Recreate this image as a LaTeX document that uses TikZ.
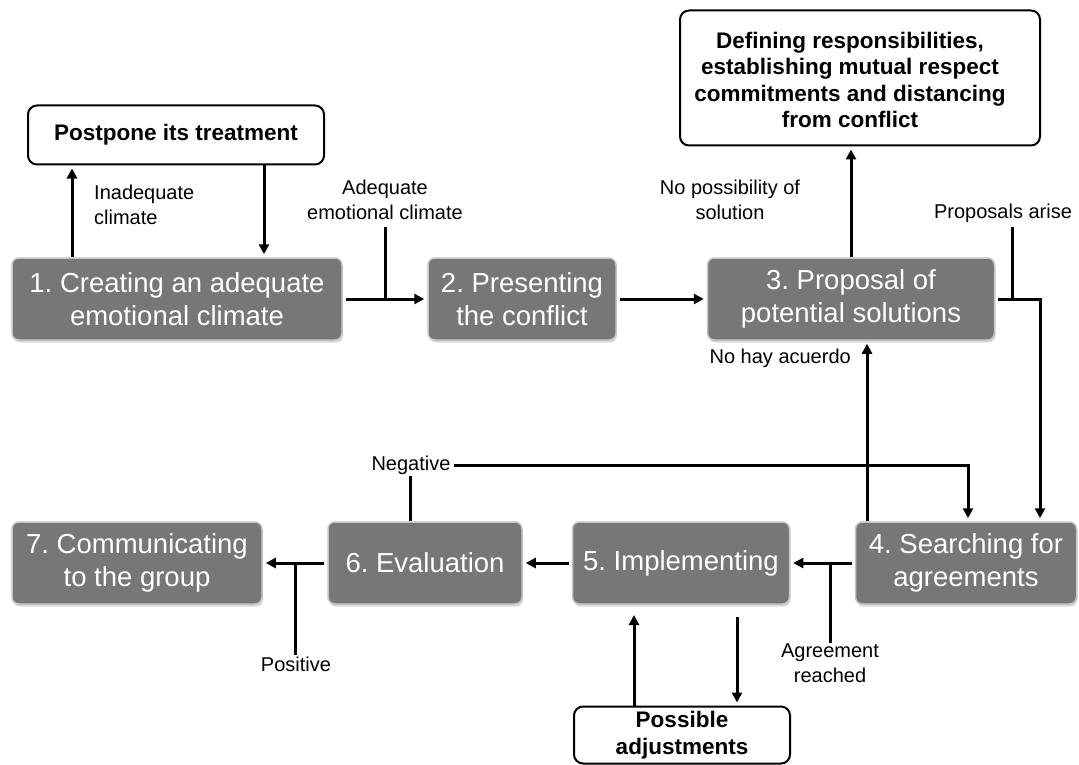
\documentclass[tikz,border=0pt]{standalone}
\usepackage{fontspec}
\setmainfont{Liberation Sans}
\usetikzlibrary{arrows.meta,shadows}
\definecolor{boxgray}{HTML}{777777}
\definecolor{boxedge}{HTML}{C4C4C4}
\frenchspacing
\begin{document}
\begin{tikzpicture}[x=1pt,y=-1pt,
 stepbox/.style={rounded corners=7pt, fill=boxgray, draw=boxedge, line width=1.5pt, text=white, align=center,
   font=\fontsize{27.5}{33}\selectfont, inner sep=0pt,
   drop shadow={shadow xshift=1pt, shadow yshift=-2.5pt, opacity=0.3}, minimum height=82pt},
 notebox/.style={rounded corners=9pt, draw=black, line width=2pt, fill=white, align=center,
   font=\bfseries\fontsize{22.5}{26.5}\selectfont, inner sep=0pt},
 lbl/.style={font=\fontsize{20}{24.5}\selectfont, align=center, inner sep=1pt},
 arr/.style={line width=3pt, -{Triangle[length=10pt,width=10pt]}, shorten >=3pt},
 ln/.style={line width=3pt}
]
\fill[white] (0,0) rectangle (1079,765);
\useasboundingbox (0,0) rectangle (1079,765);

% step boxes
\node[stepbox, minimum width=330pt] (b1) at (177,299) {1. Creating an adequate\\emotional climate};
\node[stepbox, minimum width=188pt] (b2) at (522,299) {2. Presenting\\the conflict};
\node[stepbox, minimum width=287pt] (b3) at (851,299) {3. Proposal of\\potential solutions};
\node[stepbox, minimum width=221pt] (b4) at (966,563) {4. Searching for\\agreements};
\node[stepbox, minimum width=217pt] (b5) at (681,563) {5. Implementing};
\node[stepbox, minimum width=194pt] (b6) at (425,563) {6. Evaluation};
\node[stepbox, minimum width=250pt] (b7) at (137,563) {7. Communicating\\to the group};

% note boxes
\node[notebox, minimum width=296pt, minimum height=59pt] (post) at (176,135) {Postpone its treatment};
\node[notebox, minimum width=360pt, minimum height=135pt] (def) at (860,78) {\begin{tabular}{@{}c@{\hspace{20pt}}}\rule{0pt}{28pt}Defining responsibilities,\\establishing mutual respect\\commitments and distancing\\from conflict\end{tabular}};
\node[notebox, minimum width=216pt, minimum height=57pt] (adj) at (682,735) {Possible\\adjustments};

% labels
\node[lbl, align=left, anchor=west] (inad) at (93,205) {Inadequate\\climate};
\node[lbl] (adeq) at (385,200) {Adequate\\emotional climate};
\node[lbl] (nopos) at (730,200) {No possibility of\\solution};
\node[lbl] (prop) at (1003,213) {Proposals arise};
\node[lbl, anchor=east] (nohay) at (852,358) {No hay acuerdo};
\node[lbl] (neg) at (411,465) {Negative};
\node[lbl] (agr) at (830,663) {Agreement\\reached};
\node[lbl] (pos) at (296,664) {Positive};

% helper coordinates
\coordinate (x72) at (72,0);
\coordinate (x264) at (264,0);
\coordinate (x385) at (385,0);
\coordinate (x851) at (851,0);
\coordinate (x1012) at (1012,0);
\coordinate (x1040) at (1040,0);
\coordinate (x867) at (867,0);
\coordinate (x968) at (968,0);
\coordinate (x830) at (830,0);
\coordinate (x295) at (295,0);
\coordinate (x410) at (410,0);
\coordinate (x634) at (634,0);
\coordinate (x737) at (737,0);
\coordinate (y612) at (0,612);
\coordinate (y617) at (0,617);

% connectors
\draw[arr] (b1.north -| x72) -- (post.south -| x72);
\draw[arr] (post.south -| x264) -- (b1.north -| x264);
\draw[arr, shorten <=3pt] (b1.east) -- (b2.west);
\draw[ln] (adeq.south -| x385) ++(0,6) -- (b1.east -| x385);
\draw[arr, shorten <=3pt] (b2.east) -- (b3.west);
\draw[arr] (b3.north) -- (def.south -| x851);
\draw[arr, shorten <=3pt] (b3.east) -- (b3.east -| x1040) -- (b4.north -| x1040);
\draw[ln] (prop.south -| x1012) ++(0,3) -- (b3.east -| x1012);
\draw[arr] (b4.north -| x867) -- (b3.south -| x867);
\draw[ln] (b6.north -| x410) -- (neg.south -| x410);
\draw[arr] (neg.east) ++(2,0) -- (neg.east -| x968) -- (b4.north -| x968);
\draw[arr, shorten <=3pt] (b4.west) -- (b5.east);
\draw[ln] (b4.west -| x830) -- (agr.north -| x830);
\draw[arr, shorten <=3pt] (b5.west) -- (b6.east);
\draw[arr, shorten <=3pt] (b6.west) -- (b7.east);
\draw[ln] (b6.west -| x295) -- (pos.north -| x295);
\draw[arr] (adj.north -| x634) -- (y612 -| x634);
\draw[arr] (y617 -| x737) -- (adj.north -| x737);
\end{tikzpicture}
\end{document}
